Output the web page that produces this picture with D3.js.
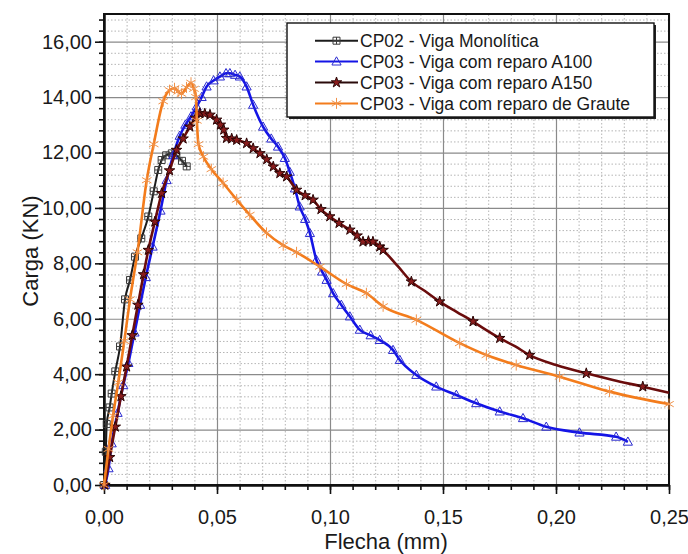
<!DOCTYPE html>
<html>
<head>
<meta charset="utf-8">
<title>Carga x Flecha</title>
<style>
  body { margin: 0; background: #fff; }
  text { font-family: "Liberation Sans", Arial, sans-serif; fill: #1a1a1a; }
  .grid-minor line { stroke: #b5b5b5; stroke-width: 1; stroke-dasharray: 1.5,2; }
  .grid-major line { stroke: #8a8a8a; stroke-width: 1.2; }
  .axis path, .axis line { stroke: #111; }
  .axis path { stroke-width: 2; }
  .axis line { stroke-width: 1.6; }
</style>
</head>
<body>
<script src="https://d3js.org/d3.v7.min.js"></script>
<script>
// ticks
var xMajor = [0, 0.05, 0.10, 0.15, 0.20, 0.25];
var xTickLabels = ["0,00", "0,05", "0,10", "0,15", "0,20", "0,25"];
var yMajor = [0, 2, 4, 6, 8, 10, 12, 14, 16];
var yTickLabels = ["0,00", "2,00", "4,00", "6,00", "8,00", "10,00", "12,00", "14,00", "16,00"];
var xMinor = d3.range(0, 26).map(function(i) { return i / 100; });
var yMinor = d3.range(0, 43).map(function(i) { return i * 0.4; });

var seriesNames = ["CP02 - Viga Monolítica", "CP03 - Viga com reparo A100",
                   "CP03 - Viga com reparo A150", "CP03 - Viga com reparo de Graute"];

// CP02 - monolitica (preto)
var cp02X = [0, 0.0008, 0.0012, 0.0025, 0.0034, 0.0050, 0.0071, 0.0093, 0.0115, 0.0137, 0.0165, 0.0196, 0.0220, 0.0240, 0.0255, 0.0275, 0.0300, 0.0320, 0.0345, 0.0366];
var cp02Y = [0, 1.2, 2.2, 2.8, 3.3, 4.1, 5.0, 6.7, 7.4, 8.24, 8.9, 9.69, 10.6, 11.37, 11.73, 11.9, 11.97, 11.9, 11.7, 11.5];

// A100 (azul)
var a100X = [0.0005, 0.0020, 0.0034, 0.0060, 0.0085, 0.0108, 0.0135, 0.0160, 0.0185, 0.0215, 0.0250, 0.0277, 0.0306, 0.0335, 0.0360, 0.0385, 0.0410, 0.0432, 0.0454, 0.0485, 0.0513, 0.0540, 0.0557, 0.0580, 0.0601, 0.0631, 0.0660, 0.0704, 0.0740, 0.0770, 0.0800, 0.0822, 0.0845, 0.0866, 0.0890, 0.0911, 0.0940, 0.0965, 0.0985, 0.1014, 0.1050, 0.1088, 0.1132, 0.1180, 0.1220, 0.1279, 0.1309, 0.1382, 0.1470, 0.1559, 0.1647, 0.1751, 0.1854, 0.1957, 0.2104, 0.2266, 0.2318];
var a100Y = [0, 0.6, 1.5, 2.6, 3.6, 4.4, 5.5, 6.5, 7.5, 8.6, 9.9, 11.0, 11.9, 12.6, 13.0, 13.3, 13.66, 14.0, 14.38, 14.6, 14.74, 14.86, 14.86, 14.8, 14.74, 14.38, 13.72, 12.93, 12.5, 12.21, 11.8, 11.3, 10.7, 10.05, 9.6, 9.09, 8.12, 7.7, 7.40, 6.92, 6.5, 6.08, 5.6, 5.4, 5.23, 4.87, 4.51, 3.97, 3.55, 3.25, 2.95, 2.65, 2.41, 2.1, 1.89, 1.74, 1.56];

// A150 (vinho)
var a150X = [0.0004, 0.0025, 0.0050, 0.0075, 0.0100, 0.0125, 0.0150, 0.0175, 0.0196, 0.0225, 0.0255, 0.0290, 0.0321, 0.0350, 0.0380, 0.0405, 0.0424, 0.0446, 0.0469, 0.0498, 0.0515, 0.0530, 0.0542, 0.0565, 0.0587, 0.0631, 0.0660, 0.0690, 0.0720, 0.0749, 0.0778, 0.0808, 0.0852, 0.0890, 0.0925, 0.0960, 0.0999, 0.1040, 0.1088, 0.1120, 0.1146, 0.1170, 0.1190, 0.1220, 0.1235, 0.1300, 0.1360, 0.1420, 0.1485, 0.1560, 0.1633, 0.1690, 0.1751, 0.1820, 0.1883, 0.2001, 0.2134, 0.2252, 0.2384, 0.2500];
var a150Y = [0, 1.0, 2.1, 3.2, 4.27, 5.4, 6.5, 7.6, 8.48, 9.5, 10.53, 11.35, 12.09, 12.5, 12.93, 13.25, 13.42, 13.4, 13.36, 13.18, 13.0, 12.82, 12.52, 12.5, 12.45, 12.33, 12.15, 11.97, 11.75, 11.49, 11.25, 11.13, 10.65, 10.45, 10.29, 9.95, 9.69, 9.45, 9.21, 9.0, 8.78, 8.8, 8.78, 8.6, 8.48, 7.9, 7.34, 7.0, 6.62, 6.25, 5.9, 5.6, 5.3, 5.0, 4.69, 4.33, 4.03, 3.79, 3.55, 3.33];

// Graute (laranja)
var grX = [0, 0.0020, 0.0040, 0.0063, 0.0090, 0.0115, 0.0148, 0.0189, 0.0220, 0.0262, 0.0290, 0.0312, 0.0328, 0.0343, 0.0365, 0.0385, 0.0398, 0.0407, 0.0411, 0.0418, 0.0440, 0.0475, 0.0527, 0.0587, 0.0645, 0.0719, 0.0793, 0.0852, 0.0955, 0.1073, 0.1161, 0.1235, 0.1382, 0.1574, 0.1692, 0.1824, 0.2016, 0.2237, 0.2500];
var grY = [0, 1.3, 2.5, 3.7, 5.2, 6.7, 8.4, 11.0, 12.3, 13.85, 14.25, 14.32, 14.2, 14.12, 14.35, 14.52, 14.3, 14.0, 13.15, 12.3, 11.85, 11.4, 10.9, 10.3, 9.75, 9.1, 8.65, 8.4, 7.88, 7.25, 6.92, 6.45, 5.96, 5.12, 4.69, 4.33, 3.91, 3.37, 2.92];

var width = 688, height = 554;
var plot = {left: 104, right: 669, top: 14, bottom: 485};

var svg = d3.select("body").append("svg")
    .attr("width", width)
    .attr("height", height);

var x = d3.scaleLinear().domain([0, 0.25]).range([plot.left, plot.right]);
var y = d3.scaleLinear().domain([0, 17]).range([plot.bottom, plot.top]);

// grade secundaria (pontilhada)
svg.append("g").attr("class", "grid-minor")
    .attr("transform", "translate(0," + plot.bottom + ")")
    .call(d3.axisBottom(x).tickValues(xMinor.filter(function(d, i) { return i % 5 != 0; }))
        .tickSize(-(plot.bottom - plot.top)).tickFormat(""))
    .select(".domain").remove();
svg.append("g").attr("class", "grid-minor")
    .attr("transform", "translate(" + plot.left + ",0)")
    .call(d3.axisLeft(y).tickValues(yMinor.filter(function(d, i) { return i % 5 != 0; }))
        .tickSize(-(plot.right - plot.left)).tickFormat(""))
    .select(".domain").remove();

// grade principal
svg.append("g").attr("class", "grid-major")
    .attr("transform", "translate(0," + plot.bottom + ")")
    .call(d3.axisBottom(x).tickValues(xMajor).tickSize(-(plot.bottom - plot.top)).tickFormat(""))
    .select(".domain").remove();
svg.append("g").attr("class", "grid-major")
    .attr("transform", "translate(" + plot.left + ",0)")
    .call(d3.axisLeft(y).tickValues(yMajor).tickSize(-(plot.right - plot.left)).tickFormat(""))
    .select(".domain").remove();

// eixos
svg.append("g").attr("class", "axis")
    .attr("transform", "translate(0," + plot.bottom + ")")
    .call(d3.axisBottom(x).tickValues(xMinor).tickSize(5).tickSizeOuter(0).tickFormat(""));
var xAxis = svg.append("g").attr("class", "axis")
    .attr("transform", "translate(0," + plot.bottom + ")")
    .call(d3.axisBottom(x).tickValues(xMajor).tickSize(9).tickSizeOuter(0).tickPadding(16)
        .tickFormat(function(d, i) { return xTickLabels[i]; }));
xAxis.selectAll("text").attr("font-size", "20px").attr("fill", "#1a1a1a")
    .style("font-family", "'Liberation Sans', Arial, sans-serif");

svg.append("g").attr("class", "axis")
    .attr("transform", "translate(" + plot.left + ",0)")
    .call(d3.axisLeft(y).tickValues(yMinor).tickSize(5).tickSizeOuter(0).tickFormat(""));
var yAxis = svg.append("g").attr("class", "axis")
    .attr("transform", "translate(" + plot.left + ",0)")
    .call(d3.axisLeft(y).tickValues(yMajor).tickSize(9).tickSizeOuter(0).tickPadding(3)
        .tickFormat(function(d, i) { return yTickLabels[i]; }));
yAxis.selectAll("text").attr("font-size", "20px").attr("fill", "#1a1a1a")
    .style("font-family", "'Liberation Sans', Arial, sans-serif");

// moldura
svg.append("rect")
    .attr("x", plot.left).attr("y", plot.top)
    .attr("width", plot.right - plot.left).attr("height", plot.bottom - plot.top)
    .attr("fill", "none").attr("stroke", "#111").attr("stroke-width", 2);

// simbolos
function squareMark() { return "M-3.5,-3.5h7v7h-7z M0,-3.5v7 M-3.5,0h7"; }
function triMark() { return "M0,-4.8L4.6,3.4L-4.6,3.4Z"; }
var starMark = d3.symbol().type(d3.symbolStar).size(34);
function astMark() {
    var r = 5.5, p = "";
    [90, 30, -30].forEach(function(a) {
        var t = a * Math.PI / 180;
        p += "M" + (r * Math.cos(t)).toFixed(2) + "," + (-r * Math.sin(t)).toFixed(2) +
             "L" + (-r * Math.cos(t)).toFixed(2) + "," + (r * Math.sin(t)).toFixed(2);
    });
    return p;
}

// no trecho final da A150 os marcadores aparecem a cada dois pontos
function everyPoint() { return true; }
function sparseTail(d, i) { return d[0] < 0.125 || i % 2 == 0; }

var series = [
    {name: seriesNames[0], xs: cp02X, ys: cp02Y, color: "#1c1c1c", mark: squareMark, mfill: "none", mstroke: "#3a3a3a", lw: 2, show: everyPoint},
    {name: seriesNames[1], xs: a100X, ys: a100Y, color: "#1414e6", mark: triMark, mfill: "none", mstroke: "#2a2ad0", lw: 2.6, show: everyPoint},
    {name: seriesNames[2], xs: a150X, ys: a150Y, color: "#6a0c0c", mark: starMark, mfill: "#8a1c1c", mstroke: "#2a0505", lw: 2.6, show: sparseTail},
    {name: seriesNames[3], xs: grX, ys: grY, color: "#f37c1c", mark: astMark, mfill: "none", mstroke: "#f0924a", lw: 2.6, show: everyPoint}
];

var line = d3.line()
    .x(function(d) { return x(d[0]); })
    .y(function(d) { return y(d[1]); })
    .curve(d3.curveMonotoneX);

var plotG = svg.append("g");
series.forEach(function(s) {
    var pts = s.xs.map(function(v, i) { return [v, s.ys[i]]; });
    var g = plotG.append("g");
    g.append("path")
        .attr("d", line(pts))
        .attr("fill", "none")
        .attr("stroke", s.color)
        .attr("stroke-width", s.lw)
        .attr("stroke-linejoin", "round");
    g.selectAll("path.mk")
        .data(pts.filter(s.show))
        .enter()
        .append("path")
        .attr("class", "mk")
        .attr("d", s.mark)
        .attr("transform", function(d) { return "translate(" + x(d[0]) + "," + y(d[1]) + ")"; })
        .attr("fill", s.mfill)
        .attr("stroke", s.mstroke)
        .attr("stroke-width", 1);
});

// legenda
var leg = {x: 287, y: 23, w: 367, h: 94};
svg.append("rect")
    .attr("x", leg.x + 2).attr("y", leg.y + 2)
    .attr("width", leg.w).attr("height", leg.h)
    .attr("fill", "#222");
svg.append("rect")
    .attr("x", leg.x).attr("y", leg.y)
    .attr("width", leg.w).attr("height", leg.h)
    .attr("fill", "#fff").attr("stroke", "#111").attr("stroke-width", 1.4);

var legendItem = svg.append("g")
    .selectAll("g")
    .data(series)
    .enter()
    .append("g")
    .attr("transform", function(d, i) { return "translate(0," + (40.7 + i * 20.9) + ")"; });

legendItem.append("line")
    .attr("x1", 315).attr("x2", 358)
    .attr("stroke", function(d, i) { return i == 2 ? "#2a0a0a" : d.color; })
    .attr("stroke-width", 2);
legendItem.append("path")
    .attr("d", function(d) { return d.mark(); })
    .attr("transform", "translate(336.5,0)")
    .attr("fill", function(d) { return d.mfill; })
    .attr("stroke", function(d) { return d.mstroke; })
    .attr("stroke-width", 1);
legendItem.append("text")
    .attr("x", 360)
    .attr("dy", "0.36em")
    .attr("font-size", "17.5px")
    .text(function(d) { return d.name; });

// titulos dos eixos
svg.append("text")
    .attr("x", 386).attr("y", 549)
    .attr("text-anchor", "middle")
    .attr("font-size", "22px")
    .text("Flecha (mm)");
svg.append("text")
    .attr("transform", "translate(38,251) rotate(-90)")
    .attr("text-anchor", "middle")
    .attr("font-size", "22px")
    .text("Carga (KN)");
</script>
</body>
</html>
